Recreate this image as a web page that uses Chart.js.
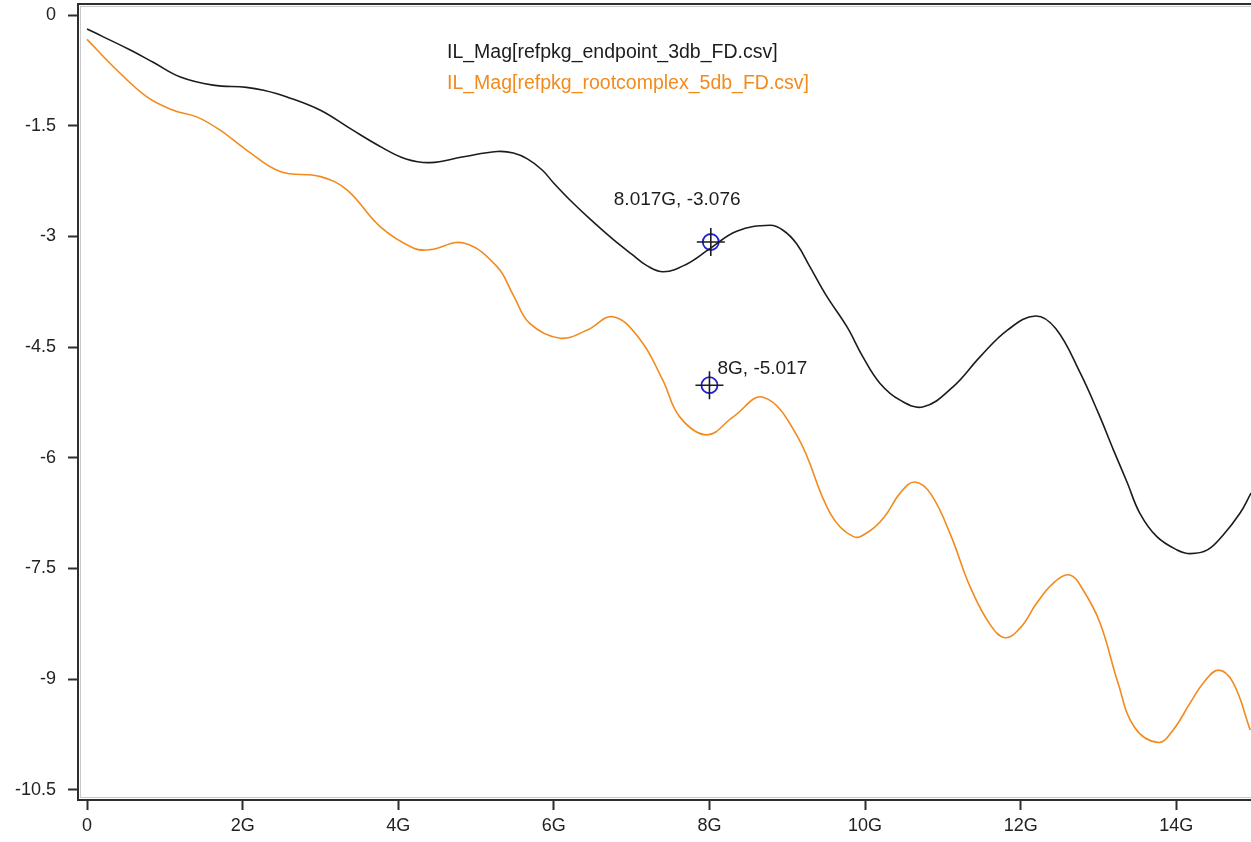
<!DOCTYPE html>
<html>
<head>
<meta charset="utf-8">
<script src="https://cdn.jsdelivr.net/npm/chart.js@4"></script>
<style>
  html, body { margin: 0; padding: 0; background: #fff; }
  canvas { display: block; }
</style>
</head>
<body>
<canvas id="ilChart" width="1251" height="842"></canvas>
<script>
// Series names
const seriesNames = ['IL_Mag[refpkg_endpoint_3db_FD.csv]', 'IL_Mag[refpkg_rootcomplex_5db_FD.csv]'];

// endpoint 3dB curve (freq in GHz, dB)
const endpointFreq = [0, 0.55, 0.85, 1.2, 1.62, 2.05, 2.27, 2.57, 3.0, 3.4, 3.8, 4.1, 4.41, 4.84, 5.27, 5.48, 5.66, 5.85, 6.0, 6.2, 6.47, 6.75, 7.0, 7.2, 7.41, 7.7, 8.0, 8.35, 8.78, 8.95, 9.12, 9.29, 9.5, 9.77, 9.97, 10.19, 10.45, 10.75, 11.13, 11.48, 11.83, 12.19, 12.45, 12.76, 13.0, 13.19, 13.37, 13.53, 13.75, 14.01, 14.18, 14.4, 14.6, 14.82, 14.96];
const endpointMag = [-0.19, -0.47, -0.64, -0.84, -0.95, -0.98, -1.02, -1.11, -1.29, -1.55, -1.8, -1.95, -2.0, -1.92, -1.85, -1.87, -1.95, -2.1, -2.28, -2.5, -2.77, -3.03, -3.24, -3.4, -3.48, -3.38, -3.17, -2.93, -2.85, -2.92, -3.1, -3.41, -3.8, -4.23, -4.63, -4.99, -5.22, -5.31, -5.04, -4.63, -4.27, -4.08, -4.25, -4.84, -5.4, -5.89, -6.34, -6.75, -7.07, -7.25, -7.30, -7.25, -7.05, -6.75, -6.48];

// rootcomplex 5dB curve
const rootFreq = [0, 0.34, 0.77, 1.11, 1.41, 1.71, 2.05, 2.48, 3.0, 3.34, 3.77, 4.2, 4.41, 4.84, 5.27, 5.48, 5.69, 6.08, 6.43, 6.76, 7.11, 7.4, 7.62, 7.97, 8.3, 8.69, 9.13, 9.55, 9.85, 10.05, 10.25, 10.45, 10.64, 10.85, 11.1, 11.35, 11.6, 11.8, 12.0, 12.2, 12.42, 12.63, 12.8, 13.02, 13.25, 13.46, 13.77, 13.96, 14.18, 14.35, 14.54, 14.73, 14.95];
const rootMag = [-0.33, -0.70, -1.11, -1.29, -1.38, -1.56, -1.83, -2.12, -2.19, -2.37, -2.87, -3.16, -3.18, -3.09, -3.41, -3.8, -4.18, -4.38, -4.27, -4.09, -4.40, -4.95, -5.45, -5.69, -5.45, -5.18, -5.71, -6.75, -7.07, -7.0, -6.8, -6.48, -6.33, -6.5, -7.05, -7.75, -8.25, -8.44, -8.3, -7.98, -7.7, -7.59, -7.79, -8.24, -9.05, -9.65, -9.86, -9.69, -9.32, -9.05, -8.88, -9.05, -9.69];

// markers
const markerFreq = [8.017, 8];
const markerMag = [-3.076, -5.017];
const markerLabels = ['8.017G, -3.076', '8G, -5.017'];

// axis ticks
const xTicks = [0, 2, 4, 6, 8, 10, 12, 14];
const xTickLabels = ['0', '2G', '4G', '6G', '8G', '10G', '12G', '14G'];
const yTicks = [0, -1.5, -3, -4.5, -6, -7.5, -9, -10.5];
const yTickLabels = ['0', '-1.5', '-3', '-4.5', '-6', '-7.5', '-9', '-10.5'];

const lineColors = ['#1c1c1c', '#f28a1e'];
const FONT = '"Liberation Sans", Arial, sans-serif';

function toPoints(xs, ys) {
    return xs.map((x, i) => ({ x: x, y: ys[i] }));
}

// stop the scales from reserving room for half labels
function noPad(scale) {
    scale.paddingTop = 0;
    scale.paddingBottom = 0;
    scale.paddingLeft = 0;
    scale.paddingRight = 0;
}

// frame, legend text and marker labels
const decorPlugin = {
    id: 'decor',
    afterDraw(chart) {
        const ctx = chart.ctx;
        const a = chart.chartArea;
        ctx.save();
        // frame (right side runs off the picture)
        ctx.strokeStyle = '#c8c8c8';
        ctx.lineWidth = 1;
        ctx.strokeRect(a.left + 2.5, a.top + 2.5, a.right - a.left + 10, a.bottom - a.top - 5);
        ctx.strokeStyle = '#2e2e2e';
        ctx.lineWidth = 2;
        ctx.strokeRect(a.left, a.top, a.right - a.left + 10, a.bottom - a.top);

        // legend
        ctx.font = '19.5px ' + FONT;
        ctx.textBaseline = 'middle';
        ctx.textAlign = 'left';
        seriesNames.forEach((name, i) => {
            ctx.fillStyle = lineColors[i];
            ctx.fillText(name, 447, 53 + i * 31);
        });

        // marker labels
        const offsets = [[-97, -42], [8, -16]];
        const xs = chart.scales.x, ys = chart.scales.y;
        ctx.fillStyle = '#1c1c1c';
        ctx.font = '19px ' + FONT;
        markerLabels.forEach((t, i) => {
            const px = xs.getPixelForValue(markerFreq[i]);
            const py = ys.getPixelForValue(markerMag[i]);
            ctx.fillText(t, px + offsets[i][0], py + offsets[i][1]);
        });
        ctx.restore();
    }
};

new Chart(document.getElementById('ilChart'), {
    type: 'line',
    data: {
        datasets: [
            {
                label: seriesNames[0],
                data: toPoints(endpointFreq, endpointMag),
                borderColor: lineColors[0],
                borderWidth: 1.6,
                pointRadius: 0,
                tension: 0.4,
                fill: false
            },
            {
                label: seriesNames[1],
                data: toPoints(rootFreq, rootMag),
                borderColor: lineColors[1],
                borderWidth: 1.6,
                pointRadius: 0,
                tension: 0.4,
                fill: false
            },
            {
                type: 'scatter',
                label: 'marker cross',
                data: toPoints(markerFreq, markerMag),
                pointStyle: 'cross',
                pointRadius: 14,
                borderColor: '#1c1c1c',
                borderWidth: 1.6,
                showLine: false
            },
            {
                type: 'scatter',
                label: 'marker ring',
                data: toPoints(markerFreq, markerMag),
                pointStyle: 'circle',
                pointRadius: 8,
                borderColor: '#1f1fd0',
                backgroundColor: 'rgba(0,0,0,0)',
                borderWidth: 1.8,
                showLine: false
            }
        ]
    },
    options: {
        responsive: false,
        animation: false,
        layout: { autoPadding: false, padding: { top: 4, right: 0, left: 0, bottom: 0 } },
        plugins: {
            legend: { display: false },
            tooltip: { enabled: false }
        },
        scales: {
            x: {
                type: 'linear',
                min: -0.116,
                max: 14.96,
                afterBuildTicks: (scale) => { scale.ticks = xTicks.map(v => ({ value: v })); },
                afterFit: (scale) => { scale.height = 42; noPad(scale); },
                border: { display: false },
                grid: { drawOnChartArea: false, drawTicks: true, tickLength: 10, tickColor: '#2e2e2e', tickWidth: 2 },
                ticks: {
                    autoSkip: false,
                    maxRotation: 0,
                    padding: 5,
                    color: '#222',
                    font: { family: FONT, size: 18 },
                    callback: (v, i) => xTickLabels[i]
                }
            },
            y: {
                min: -10.64,
                max: 0.15,
                afterBuildTicks: (scale) => { scale.ticks = yTicks.map(v => ({ value: v })); },
                afterFit: (scale) => { scale.width = 78; noPad(scale); },
                border: { display: false },
                grid: { drawOnChartArea: false, drawTicks: true, tickLength: 10, tickColor: '#2e2e2e', tickWidth: 2 },
                ticks: {
                    autoSkip: false,
                    padding: 12,
                    color: '#222',
                    font: { family: FONT, size: 18 },
                    callback: (v, i) => yTickLabels[i]
                }
            }
        }
    },
    plugins: [decorPlugin]
});
</script>
</body>
</html>
